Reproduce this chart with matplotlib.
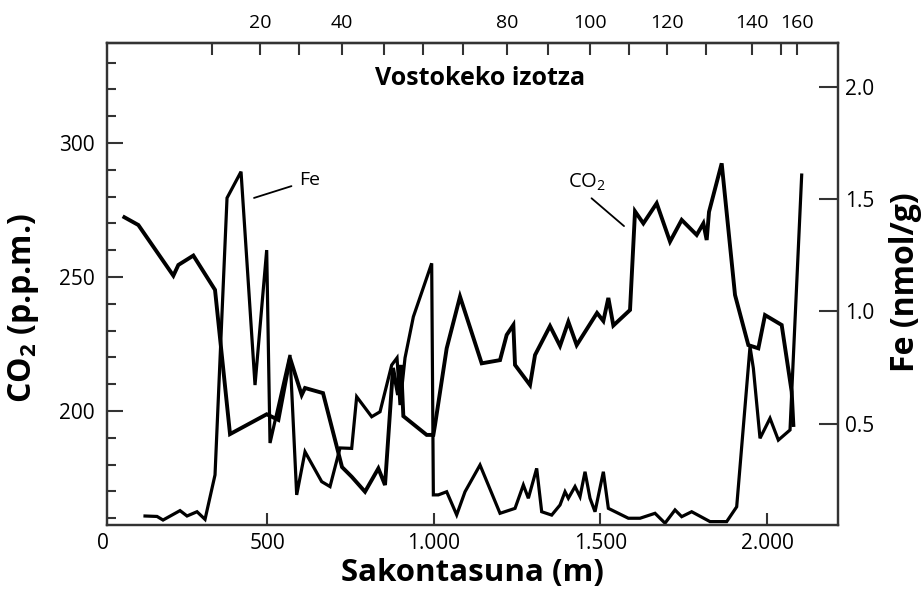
import matplotlib
matplotlib.use("Agg")
import matplotlib.pyplot as plt
from matplotlib.ticker import MultipleLocator

plt.rcParams["font.family"] = ["Open Sans", "DejaVu Sans"]
plt.rcParams["mathtext.fontset"] = "custom"
plt.rcParams["mathtext.rm"] = "Open Sans"
plt.rcParams["mathtext.bf"] = "Open Sans:bold"

# CO2 record (depth in m, ppm)
co2_depth = [72, 114, 219, 234, 279, 344, 389, 499, 534, 569, 604, 614, 668, 725,
             754, 794, 834, 854, 878, 893, 902, 909, 979, 999, 1004, 1039, 1079,
             1144, 1199, 1219, 1239, 1244, 1289, 1304, 1349, 1379, 1404, 1429, 1490,
             1509, 1524, 1539, 1589, 1604, 1629, 1669, 1709, 1744, 1789, 1809, 1819,
             1826, 1864, 1904, 1944, 1974, 1994, 2044, 2074, 2079]
co2_ppm = [272.3, 269.4, 250.5, 254.5, 258.0, 245.2, 191.4, 198.8, 196.7, 219.8,
           206.0, 208.6, 206.7, 179.1, 175.5, 169.9, 178.6, 172.4, 216.1, 206.0,
           217.2, 198.1, 191.1, 191.1, 194.8, 223.4, 242.7, 217.8, 219.0, 228.4,
           232.1, 217.2, 209.7, 220.9, 231.7, 224.3, 233.3, 224.6, 236.6, 233.6,
           242.2, 231.9, 237.7, 274.5, 270.0, 277.5, 263.2, 271.3, 265.7, 270.0,
           263.8, 274.3, 292.4, 243.3, 224.6, 223.4, 235.8, 232.1, 207.2, 194.8]

# Fe record (depth in m, nmol/g)
fe_depth = [134, 170, 188, 239, 260, 290, 314, 344, 380, 422, 464, 499, 509, 569,
            589, 614, 664, 689, 719, 754, 769, 814, 839, 874, 890, 899, 914, 939,
            994, 999, 1014, 1039, 1069, 1094, 1139, 1199, 1244, 1269, 1284, 1309,
            1324, 1354, 1379, 1394, 1404, 1424, 1439, 1454, 1469, 1484, 1509, 1524,
            1584, 1619, 1664, 1694, 1724, 1744, 1774, 1829, 1879, 1909, 1949, 1959,
            1979, 2009, 2034, 2069, 2104]
fe_conc = [0.089, 0.087, 0.071, 0.113, 0.089, 0.108, 0.074, 0.272, 1.505, 1.622,
           0.672, 1.273, 0.414, 0.806, 0.183, 0.375, 0.242, 0.220, 0.392, 0.390,
           0.620, 0.531, 0.553, 0.761, 0.793, 0.583, 0.793, 0.976, 1.214, 0.183,
           0.183, 0.197, 0.094, 0.197, 0.316, 0.101, 0.123, 0.227, 0.168, 0.301,
           0.108, 0.093, 0.138, 0.197, 0.168, 0.220, 0.175, 0.286, 0.168, 0.108,
           0.286, 0.123, 0.079, 0.079, 0.101, 0.057, 0.116, 0.086, 0.108, 0.064,
           0.064, 0.130, 0.843, 0.747, 0.435, 0.524, 0.427, 0.472, 1.607]

# top axis: age (kyr) marked at depth
age_ticks = [10, 20, 30, 40, 50, 60, 70, 80, 90, 100, 110, 120, 130, 140, 150, 160]
age_depth = [335, 479, 596, 725, 851, 968, 1088, 1220, 1343, 1469, 1586, 1700,
             1817, 1955, 2042, 2090]
age_labeled = [20, 40, 80, 100, 120, 140, 160]

depth_ticks = [500, 1000, 1500, 2000]
depth_labels = ["500", "1.000", "1.500", "2.000"]

spine_col = "#333333"

fig = plt.figure(figsize=(9.21, 5.93), dpi=100)
ax = fig.add_axes([0.1162, 0.1147, 0.7937, 0.8128])
ax2 = ax.twinx()

ax.plot(co2_depth, co2_ppm, color="black", linewidth=2.8, solid_joinstyle="miter")
ax2.plot(fe_depth, fe_conc, color="black", linewidth=2.3, solid_joinstyle="miter")

ax.set_xlim(20, 2213)
ax.set_ylim(157.5, 337.3)
ax2.set_ylim(0.049, 2.195)

for a in (ax, ax2):
    for s in a.spines.values():
        s.set_color(spine_col)
        s.set_linewidth(1.6)

ax.set_xticks(depth_ticks)
ax.set_xticklabels(depth_labels)
ax.tick_params(axis="x", direction="in", length=8.5, width=1.5, pad=6,
               labelsize=15, color=spine_col)
ax.set_yticks([200, 250, 300])
ax.yaxis.set_minor_locator(MultipleLocator(10))
ax.tick_params(axis="y", which="major", direction="in", length=11.5, width=1.5,
               pad=9, labelsize=15, color=spine_col)
ax.tick_params(axis="y", which="minor", direction="in", length=6.5, width=1.5,
               color=spine_col)
ax.text(-0.005, -0.017, "0", transform=ax.transAxes, ha="center", va="top",
        fontsize=15)

ax2.set_yticks([0.5, 1.0, 1.5, 2.0])
ax2.tick_params(axis="y", direction="in", length=14, width=1.5, pad=5,
                labelsize=15, color=spine_col)

top = ax.secondary_xaxis("top")
top.set_xticks(age_depth)
top.set_xticklabels([str(a) if a in age_labeled else "" for a in age_ticks])
top.tick_params(direction="in", length=8.5, width=1.5, pad=8, labelsize=14,
                color=spine_col)
top.spines["top"].set_color(spine_col)
top.spines["top"].set_linewidth(1.6)

ax.set_xlabel("Sakontasuna (m)", fontsize=22.5, fontweight="bold", labelpad=3)
ax.set_ylabel(r"CO$_\mathbf{2}$ (p.p.m.)", fontsize=23, fontweight="bold")
ax.yaxis.set_label_coords(-0.09, 0.45)
ax2.set_ylabel("Fe (nmol/g)", fontsize=23, fontweight="bold", rotation=90)
ax2.yaxis.set_label_coords(1.07, 0.504)

ax.text(0.51, 0.927, "Vostokeko izotza", transform=ax.transAxes, ha="center",
        va="center", fontsize=18, fontweight="bold")

ax.annotate("Fe", xy=(461, 279.5), xytext=(629, 286.2), fontsize=14,
            ha="center", va="center",
            arrowprops=dict(arrowstyle="-", color="black", lw=1.3,
                            shrinkA=4, shrinkB=0, relpos=(0, 0.3)))
ax.annotate(r"CO$_2$", xy=(1571, 269.0), xytext=(1460, 285.4), fontsize=14.5,
            ha="center", va="center",
            arrowprops=dict(arrowstyle="-", color="black", lw=1.3,
                            shrinkA=3, shrinkB=0, relpos=(0.45, 0)))

fig.savefig("out.png", dpi=100)
